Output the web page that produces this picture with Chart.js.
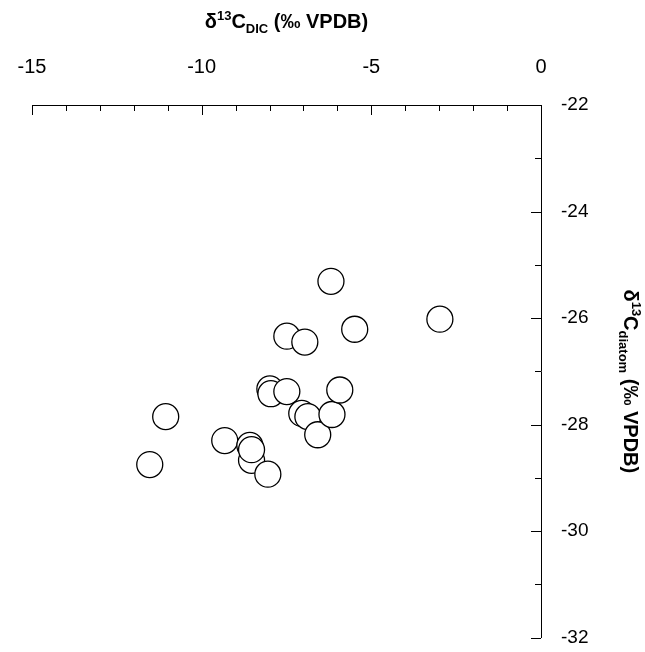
<!DOCTYPE html>
<html>
<head>
<meta charset="utf-8">
<script src="https://cdn.jsdelivr.net/npm/chart.js@4"></script>
<style>
  body { margin: 0; background: #fff; }
  #wrap { width: 645px; height: 652px; }
</style>
</head>
<body>
<div id="wrap"><canvas id="isoChart"></canvas></div>
<script>
// values
const dicValues = [-11.53, -11.06, -9.32, -8.58, -8.53, -8.53, -8.05, -7.99, -7.96, -7.49,
                   -7.49, -6.96, -7.05, -6.87, -6.58, -6.19, -6.16, -5.93, -5.49, -2.98];
const diatomValues = [-28.75, -27.85, -28.30, -28.39, -28.67, -28.47, -28.93, -27.33, -27.42, -26.34,
                      -27.38, -26.45, -27.79, -27.85, -28.19, -25.31, -27.81, -27.35, -26.21, -26.02];
const xTicks = [-15, -10, -5, 0];
const yTicks = [-22, -24, -26, -28, -30, -32];

const font = "Liberation Sans, Arial, sans-serif";

// draws inward tick marks (major + minor) and the axis titles
const axisDecor = {
    id: "axisDecor",
    afterDraw(chart) {
        const ctx = chart.ctx;
        const xs = chart.scales.x, ys = chart.scales.y;
        const ax = ys.left, ay = xs.bottom;
        ctx.save();
        ctx.strokeStyle = "#000";
        ctx.lineWidth = 1;
        ctx.beginPath();
        for (let v = -15; v <= 0; v++) {
            const p = Math.round(xs.getPixelForValue(v)) + 0.5;
            const len = v % 5 === 0 ? 10 : 6;
            ctx.moveTo(p, ay); ctx.lineTo(p, ay + len);
        }
        for (let v = -32; v <= -22; v++) {
            const p = Math.round(ys.getPixelForValue(v)) + 0.5;
            const len = v % 2 === 0 ? 10 : 6;
            ctx.moveTo(ax, p); ctx.lineTo(ax - len, p);
        }
        ctx.stroke();

        ctx.fillStyle = "#000";
        ctx.textBaseline = "alphabetic";
        // top title
        const parts = [["δ", 20, 0], ["13", 13, -8], ["C", 20, 0], ["DIC", 13, 5], [" (‰ VPDB)", 20, 0]];
        let w = 0;
        parts.forEach(p => { ctx.font = "bold " + p[1] + "px " + font; w += ctx.measureText(p[0]).width; });
        let x = (xs.left + xs.right) / 2 - w / 2;
        parts.forEach(p => {
            ctx.font = "bold " + p[1] + "px " + font;
            ctx.fillText(p[0], x, 28 + p[2]);
            x += ctx.measureText(p[0]).width;
        });
        // right title, rotated
        const rparts = [["δ", 20, 0], ["13", 13, -8], ["C", 20, 0], ["diatom", 13, 5], [" (‰ VPDB)", 20, 0]];
        w = 0;
        rparts.forEach(p => { ctx.font = "bold " + p[1] + "px " + font; w += ctx.measureText(p[0]).width; });
        ctx.translate(624, (ys.top + ys.bottom) / 2 - w / 2 + 10);
        ctx.rotate(Math.PI / 2);
        x = 0;
        rparts.forEach(p => {
            ctx.font = "bold " + p[1] + "px " + font;
            ctx.fillText(p[0], x, p[2]);
            x += ctx.measureText(p[0]).width;
        });
        ctx.restore();
    }
};

new Chart(document.getElementById("isoChart"), {
    type: "scatter",
    data: {
        datasets: [{
            data: dicValues.map((v, i) => ({ x: v, y: diatomValues[i] })),
            pointRadius: 13,
            pointBackgroundColor: "#fff",
            pointBorderColor: "#000",
            pointBorderWidth: 1.3,
        }],
    },
    options: {
        responsive: true,
        maintainAspectRatio: false,
        animation: false,
        layout: { padding: { left: 32, top: 0, right: 0, bottom: 9 } },
        plugins: { legend: { display: false }, tooltip: { enabled: false } },
        scales: {
            x: {
                position: "top",
                min: -15, max: 0,
                afterFit: s => { s.height = 105; s.paddingLeft = 0; s.paddingRight = 0; },
                afterBuildTicks: s => { s.ticks = xTicks.map(v => ({ value: v })); },
                grid: { display: false },
                border: { display: true, color: "#000" },
                ticks: { color: "#000", font: { family: font, size: 20 }, padding: 18 },
            },
            y: {
                position: "right",
                min: -32, max: -22,
                afterFit: s => { s.width = 104; s.paddingTop = 0; s.paddingBottom = 0; },
                afterBuildTicks: s => { s.ticks = yTicks.map(v => ({ value: v })); },
                grid: { display: false },
                border: { display: true, color: "#000" },
                ticks: { color: "#000", font: { family: font, size: 19 }, padding: 12 },
            },
        },
    },
    plugins: [axisDecor],
});
</script>
</body>
</html>
